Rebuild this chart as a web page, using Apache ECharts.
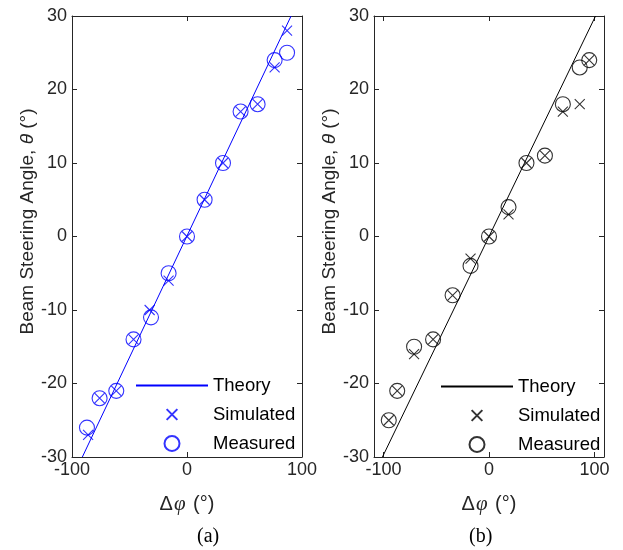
<!DOCTYPE html>
<html><head><meta charset="utf-8">
<script src="https://cdn.jsdelivr.net/npm/echarts@6/dist/echarts.min.js"></script>
<style>html,body{margin:0;padding:0;background:#fff}#c{width:623px;height:550px}</style>
</head><body><div id="c"></div><script>
// tick labels
const xTicks = [-100, 0, 100];
const yTicks = [-30, -20, -10, 0, 10, 20, 30];
const legendNames = ['Theory', 'Simulated', 'Measured'];
// panel (a)
const theoryA = [[-91, -30], [90.5, 30]];
const simPhiA = [-86, -76, -61.5, -46.5, -32.5, -16, 0, 15.3, 31.3, 46.6, 61.4, 76.2, 87];
const simA = [-27, -22, -21, -14, -10, -6, 0, 5, 10, 17, 18, 23, 28];
const measPhiA = [-87, -76, -61.5, -46.5, -31.3, -16, 0, 15.3, 31.3, 46.6, 61.4, 76.2, 87];
const measA = [-26, -22, -21, -14, -11, -5, 0, 5, 10, 17, 18, 24, 25];
// panel (b)
const theoryB = [[-101, -30], [101, 30]];
const phiB = [-95, -87, -71, -53, -34.5, -17.5, 0, 18.5, 35.5, 53, 70, 86, 95];
const simB = [-25, -21, -16, -14, -8, -3, 0, 3, 10, 11, 17, 18, 24];
const measB = [-25, -21, -15, -14, -8, -4, 0, 4, 10, 11, 18, 23, 24];

const FONT = '"Liberation Sans", Arial, Helvetica, sans-serif';
const SERIF = '"Liberation Serif", "Times New Roman", serif';
const AX = '#262626';
const BLUE = '#0000ff';
const BLACK = '#000000';
const X_PATH = 'path://M-2,-2L-2,-2M0,0L10,10M10,0L0,10M12,12L12,12';
const INVISIBLE = 'path://M0,0L0,0M10,10L10,10';
const zip = (a, b) => a.map((v, i) => [v, b[i]]);

const chart = echarts.init(document.getElementById('c'), null, {renderer: 'canvas'});

function xAxes(grid, min, max) {
  const base = {
    gridIndex: grid, type: 'value', min: min, max: max,
    splitLine: {show: false},
    axisLine: {onZero: false, lineStyle: {color: AX, width: 1}},
    axisTick: {inside: true, length: 5, lineStyle: {color: AX, width: 1}, customValues: xTicks},
  };
  return [
    Object.assign({}, base, {
      position: 'bottom',
      axisLabel: {fontSize: 18, color: AX, fontFamily: FONT, margin: 4, customValues: xTicks, showMinLabel: true, showMaxLabel: true},
      name: '{d|Δ}{i|φ}{d| (°)}', nameLocation: 'middle', nameGap: 37,
      nameTextStyle: {rich: {
        d: {fontSize: 20, color: AX, fontFamily: FONT},
        i: {fontSize: 21, color: AX, fontFamily: SERIF, fontStyle: 'italic', padding: [0, 2, 0, 1]}
      }}
    }),
    Object.assign({}, base, {position: 'top', axisLabel: {show: false}})
  ];
}
function yAxes(grid, nameGap) {
  const base = {
    gridIndex: grid, type: 'value', min: -30, max: 30, interval: 10,
    splitLine: {show: false},
    axisLine: {onZero: false, lineStyle: {color: AX, width: 1}},
    axisTick: {inside: true, length: 5, lineStyle: {color: AX, width: 1}},
  };
  return [
    Object.assign({}, base, {
      position: 'left',
      axisLabel: {fontSize: 18, color: AX, fontFamily: FONT, margin: 5, showMinLabel: true, showMaxLabel: true},
      name: 'Beam Steering Angle, {i|θ} (°)', nameLocation: 'middle', nameGap: nameGap,
      nameTextStyle: {fontSize: 19, color: AX, fontFamily: FONT, padding: [0, 0, 0, 30],
        rich: {i: {fontSize: 19, color: AX, fontFamily: FONT, fontStyle: 'italic'}}}
    }),
    Object.assign({}, base, {position: 'right', axisLabel: {show: false}})
  ];
}

function seriesFor(suffix, xi, yi, color, theory, simPts, measPts) {
  return [
    {name: 'Theory' + suffix, type: 'line', xAxisIndex: xi, yAxisIndex: yi, data: theory,
     symbol: INVISIBLE, showSymbol: false, color: color,
     lineStyle: {color: color, width: 1}, itemStyle: {color: color}, z: 2, animation: false},
    {name: 'Simulated' + suffix, type: 'scatter', xAxisIndex: xi, yAxisIndex: yi, data: simPts,
     symbol: X_PATH, symbolSize: 14, symbolKeepAspect: true,
     itemStyle: {color: 'transparent', borderColor: color, borderWidth: 1.1}, z: 3, animation: false},
    {name: 'Measured' + suffix, type: 'scatter', xAxisIndex: xi, yAxisIndex: yi, data: measPts,
     symbol: 'circle', symbolSize: 15, symbolKeepAspect: true,
     itemStyle: {color: 'transparent', borderColor: color, borderWidth: 1.1}, z: 4, animation: false}
  ];
}

function legendFor(left, top, suffix) {
  return {
    left: left, top: top, orient: 'vertical', padding: 0,
    itemWidth: 72, itemHeight: 15, itemGap: 10, selectedMode: false, symbolKeepAspect: true,
    data: legendNames.map(n => n + suffix),
    formatter: n => n.split('_')[0],
    textStyle: {fontSize: 18.5, color: BLACK, fontFamily: FONT, lineHeight: 15}
  };
}

const option = {
  backgroundColor: '#ffffff',
  animation: false,
  grid: [
    {left: 72, top: 16, width: 230, height: 441, outerBoundsMode: 'none', containLabel: false},
    {left: 374, top: 16, width: 230, height: 441, outerBoundsMode: 'none', containLabel: false}
  ],
  xAxis: [].concat(xAxes(0, -100, 100), xAxes(1, -109, 109)),
  yAxis: [].concat(yAxes(0, 32), yAxes(1, 29)),
  legend: [legendFor(135, 376, ''), legendFor(440, 377, '_b')],
  series: [].concat(
    seriesFor('', 0, 0, BLUE, theoryA, zip(simPhiA, simA), zip(measPhiA, measA)),
    seriesFor('_b', 2, 2, BLACK, theoryB, zip(phiB, simB), zip(phiB, measB))
  ),
  graphic: [
    {type: 'text', left: 197, top: 527, style: {text: '(a)', fontSize: 20, fontFamily: SERIF, fill: BLACK}},
    {type: 'text', left: 469, top: 527, style: {text: '(b)', fontSize: 20, fontFamily: SERIF, fill: BLACK}}
  ]
};
chart.setOption(option);
</script></body></html>
